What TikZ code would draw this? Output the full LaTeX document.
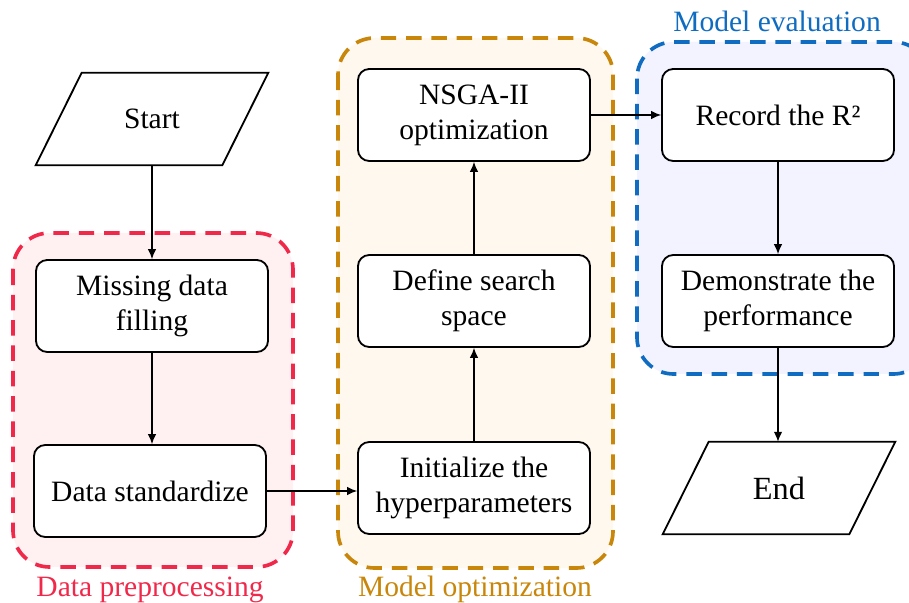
\documentclass[tikz,border=0pt]{standalone}
\usepackage{fontspec}
\setmainfont{Liberation Serif}
\usepackage{tikz}
\usetikzlibrary{arrows.meta}
\definecolor{prepred}{RGB}{240,40,74}
\definecolor{prepfill}{RGB}{255,240,242}
\definecolor{optorange}{RGB}{200,134,10}
\definecolor{optfill}{RGB}{255,248,238}
\definecolor{evalblue}{RGB}{15,108,192}
\definecolor{evalfill}{RGB}{243,242,255}

\begin{document}
\begin{tikzpicture}[x=0.025cm, y=-0.025cm,
    every node/.style={font=\fontsize{21}{25}\selectfont},
    stepbox/.style={draw, fill=white, rounded corners=8pt, line width=1.3pt, minimum width=5.8cm, minimum height=2.3cm, align=center, inner sep=0pt},
    iobox/.style={minimum width=4.65cm, minimum height=2.3cm, inner sep=0pt},
    region/.style={dash pattern=on 11pt off 7pt, line width=2.6pt, rounded corners=26pt},
    flow/.style={-{Latex[length=7pt,width=6pt]}, line width=0.9pt}]
    \useasboundingbox (0,0) rectangle (909,603);

    \draw[region, draw=prepred, fill=prepfill] (13,233) rectangle (293,567);
    \draw[region, draw=optorange, fill=optfill] (338,38) rectangle (613,568);
    \draw[region, draw=evalblue, fill=evalfill] (637,42) rectangle (930,374);

    \node[anchor=base, text=prepred] (preplabel) at (150,596) {Data preprocessing};
    \node[anchor=base, text=optorange] (optlabel) at (475,596) {Model optimization};
    \node[anchor=base, text=evalblue] (evallabel) at (777,32) {Model evaluation};

    \node[iobox] (start) at (152,119) {Start};
    \draw[line width=1.3pt] ([xshift=0.575cm]start.north west) -- ([xshift=0.575cm]start.north east)
        -- ([xshift=-0.575cm]start.south east) -- ([xshift=-0.575cm]start.south west) -- cycle;

    \node[stepbox] (miss) at (152,306) {Missing data\\filling};
    \node[stepbox] (stand) at (150,491) {Data standardize};
    \node[stepbox] (init) at (474,488) {Initialize the\\hyperparameters};
    \node[stepbox] (space) at (474,301) {Define search\\space};
    \node[stepbox] (nsga) at (474,115) {NSGA-II\\optimization};
    \node[stepbox] (rec) at (778,115) {Record the R²};
    \node[stepbox] (demo) at (778,301) {Demonstrate the\\performance};

    \node[iobox, font=\fontsize{23}{27}\selectfont] (finish) at (779,488) {End};
    \draw[line width=1.3pt] ([xshift=0.575cm]finish.north west) -- ([xshift=0.575cm]finish.north east)
        -- ([xshift=-0.575cm]finish.south east) -- ([xshift=-0.575cm]finish.south west) -- cycle;

    \draw[flow] (start.south) -- (miss.north);
    \draw[flow] (miss.south) -- (miss.south |- stand.north);
    \draw[flow] (stand.east) -- (stand.east -| init.west);
    \draw[flow] (init.north) -- (space.south);
    \draw[flow] (space.north) -- (nsga.south);
    \draw[flow] (nsga.east) -- (rec.west);
    \draw[flow] (rec.south) -- (demo.north);
    \draw[flow] (demo.south) -- (demo.south |- finish.north);
\end{tikzpicture}
\end{document}
